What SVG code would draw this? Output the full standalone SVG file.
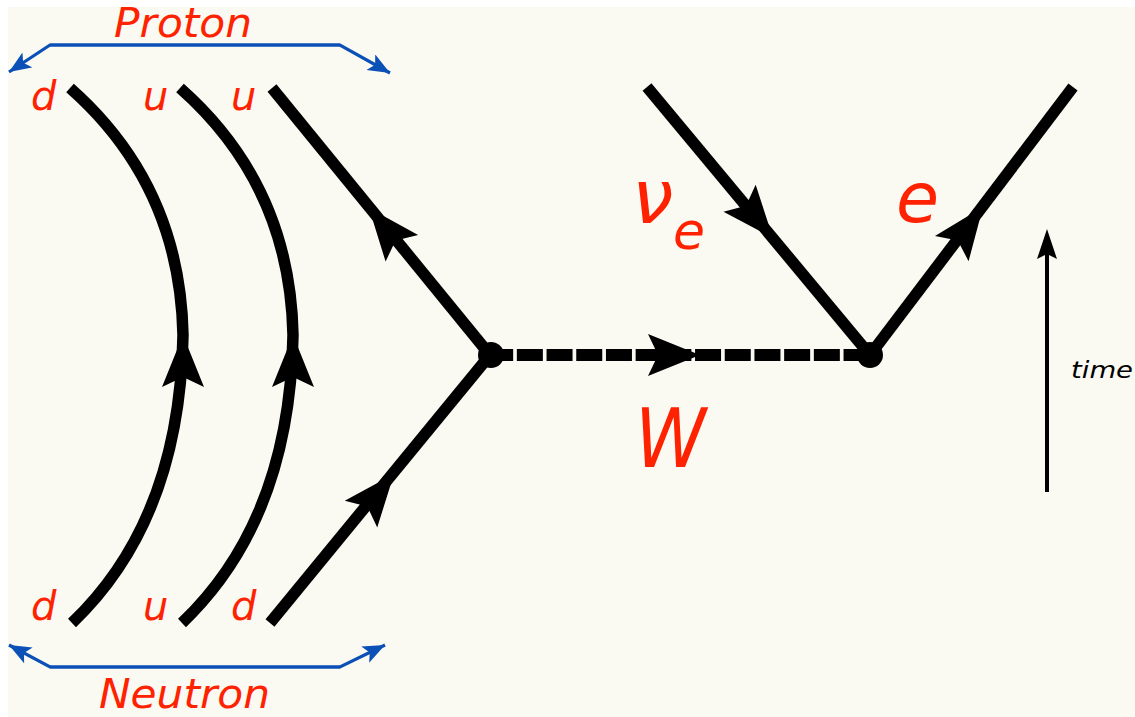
<svg xmlns="http://www.w3.org/2000/svg" width="1135" height="717" viewBox="0 0 1135 717">
<style>
.bg{fill:#FAF9F2}
.q{fill:none;stroke:#000;stroke-width:11.5;stroke-linecap:butt}
.w{fill:none;stroke:#000;stroke-width:12;stroke-dasharray:26 3.7;stroke-dashoffset:2.85}
.blue{fill:none;stroke:#0B50B6;stroke-width:3.2}
.lbl{fill:#FF2200;font-family:"DejaVu Sans",sans-serif;font-style:italic}
.t{fill:#000;font-family:"DejaVu Sans",sans-serif;font-style:italic;font-size:23px}
</style>
<defs>
<path id="ah" d="M0,0 L-52,-21 L-42,0 L-52,21 Z" fill="#000"/>
<marker id="bh" markerUnits="userSpaceOnUse" markerWidth="26" markerHeight="20" refX="22" refY="9" orient="auto">
<path d="M0,0 L22,9 L0,18 L5,9 Z" fill="#0B50B6"/>
</marker>
</defs>
<rect x="0" y="0" width="1135" height="717" fill="#FFFFFF"/>
<rect class="bg" x="8" y="7" width="1127" height="710"/>

<g id="connectors">
<path class="q" d="M70,88 Q180,185 183,335 Q180,520 72,623"/>
<path class="q" d="M180,88 Q290,185 293,335 Q290,520 182,623"/>
<path class="q" d="M272,88 L490,355"/>
<path class="q" d="M270,623 L490,355"/>
<path class="w" d="M490,355 L870,355"/>
<path class="q" d="M647,87 L870,355"/>
<path class="q" d="M870,355 L1073,87"/>
<use href="#ah" transform="translate(183,335) rotate(-90)"/>
<use href="#ah" transform="translate(293,335) rotate(-90)"/>
<use href="#ah" transform="translate(369,208) rotate(-129.2)"/>
<use href="#ah" transform="translate(394,474) rotate(-50.6)"/>
<use href="#ah" transform="translate(700,355)"/>
<use href="#ah" transform="translate(773,238) rotate(50)"/>
<use href="#ah" transform="translate(983,207) rotate(-53.1)"/>
<path class="blue" d="M340,45 L50,45 L9,72" marker-end="url(#bh)"/>
<path class="blue" d="M50,45 L340,45 L390,73" marker-end="url(#bh)"/>
<path class="blue" d="M340,667 L50,667 L9,645" marker-end="url(#bh)"/>
<path class="blue" d="M50,667 L340,667 L385,645" marker-end="url(#bh)"/>
<line x1="1047" y1="492" x2="1047" y2="252" stroke="#000" stroke-width="4"/>
<path d="M1047,229 L1057,259 L1047,254 L1037,259 Z" fill="#000"/>
</g>

<g id="vertex1"><circle cx="491" cy="355" r="13" fill="#000"/></g>
<g id="vertex2"><circle cx="870" cy="355" r="13" fill="#000"/></g>

<g id="proton"><text class="lbl" x="114" y="37" font-size="41" textLength="138" lengthAdjust="spacingAndGlyphs">Proton</text></g>
<g id="neutron"><text class="lbl" x="99" y="708" font-size="41" textLength="171" lengthAdjust="spacingAndGlyphs">Neutron</text></g>

<g id="quarks-top">
<text class="lbl" x="31" y="110" font-size="40">d</text>
<text class="lbl" x="143" y="110" font-size="40">u</text>
<text class="lbl" x="231" y="110" font-size="40">u</text>
</g>
<g id="quarks-bottom">
<text class="lbl" x="31" y="620" font-size="40">d</text>
<text class="lbl" x="143" y="620" font-size="40">u</text>
<text class="lbl" x="231" y="620" font-size="40">d</text>
</g>

<g id="neutrino"><text class="lbl" x="632" y="223" font-size="74">ν<tspan font-size="52" x="673" y="249">e</tspan></text></g>
<g id="electron"><text class="lbl" x="896" y="222" font-size="70">e</text></g>
<g id="wboson"><text class="lbl" x="635" y="467" font-size="82" textLength="71" lengthAdjust="spacingAndGlyphs">W</text></g>
<g id="time"><text class="t" x="1071" y="378" textLength="62" lengthAdjust="spacingAndGlyphs">time</text></g>
</svg>
